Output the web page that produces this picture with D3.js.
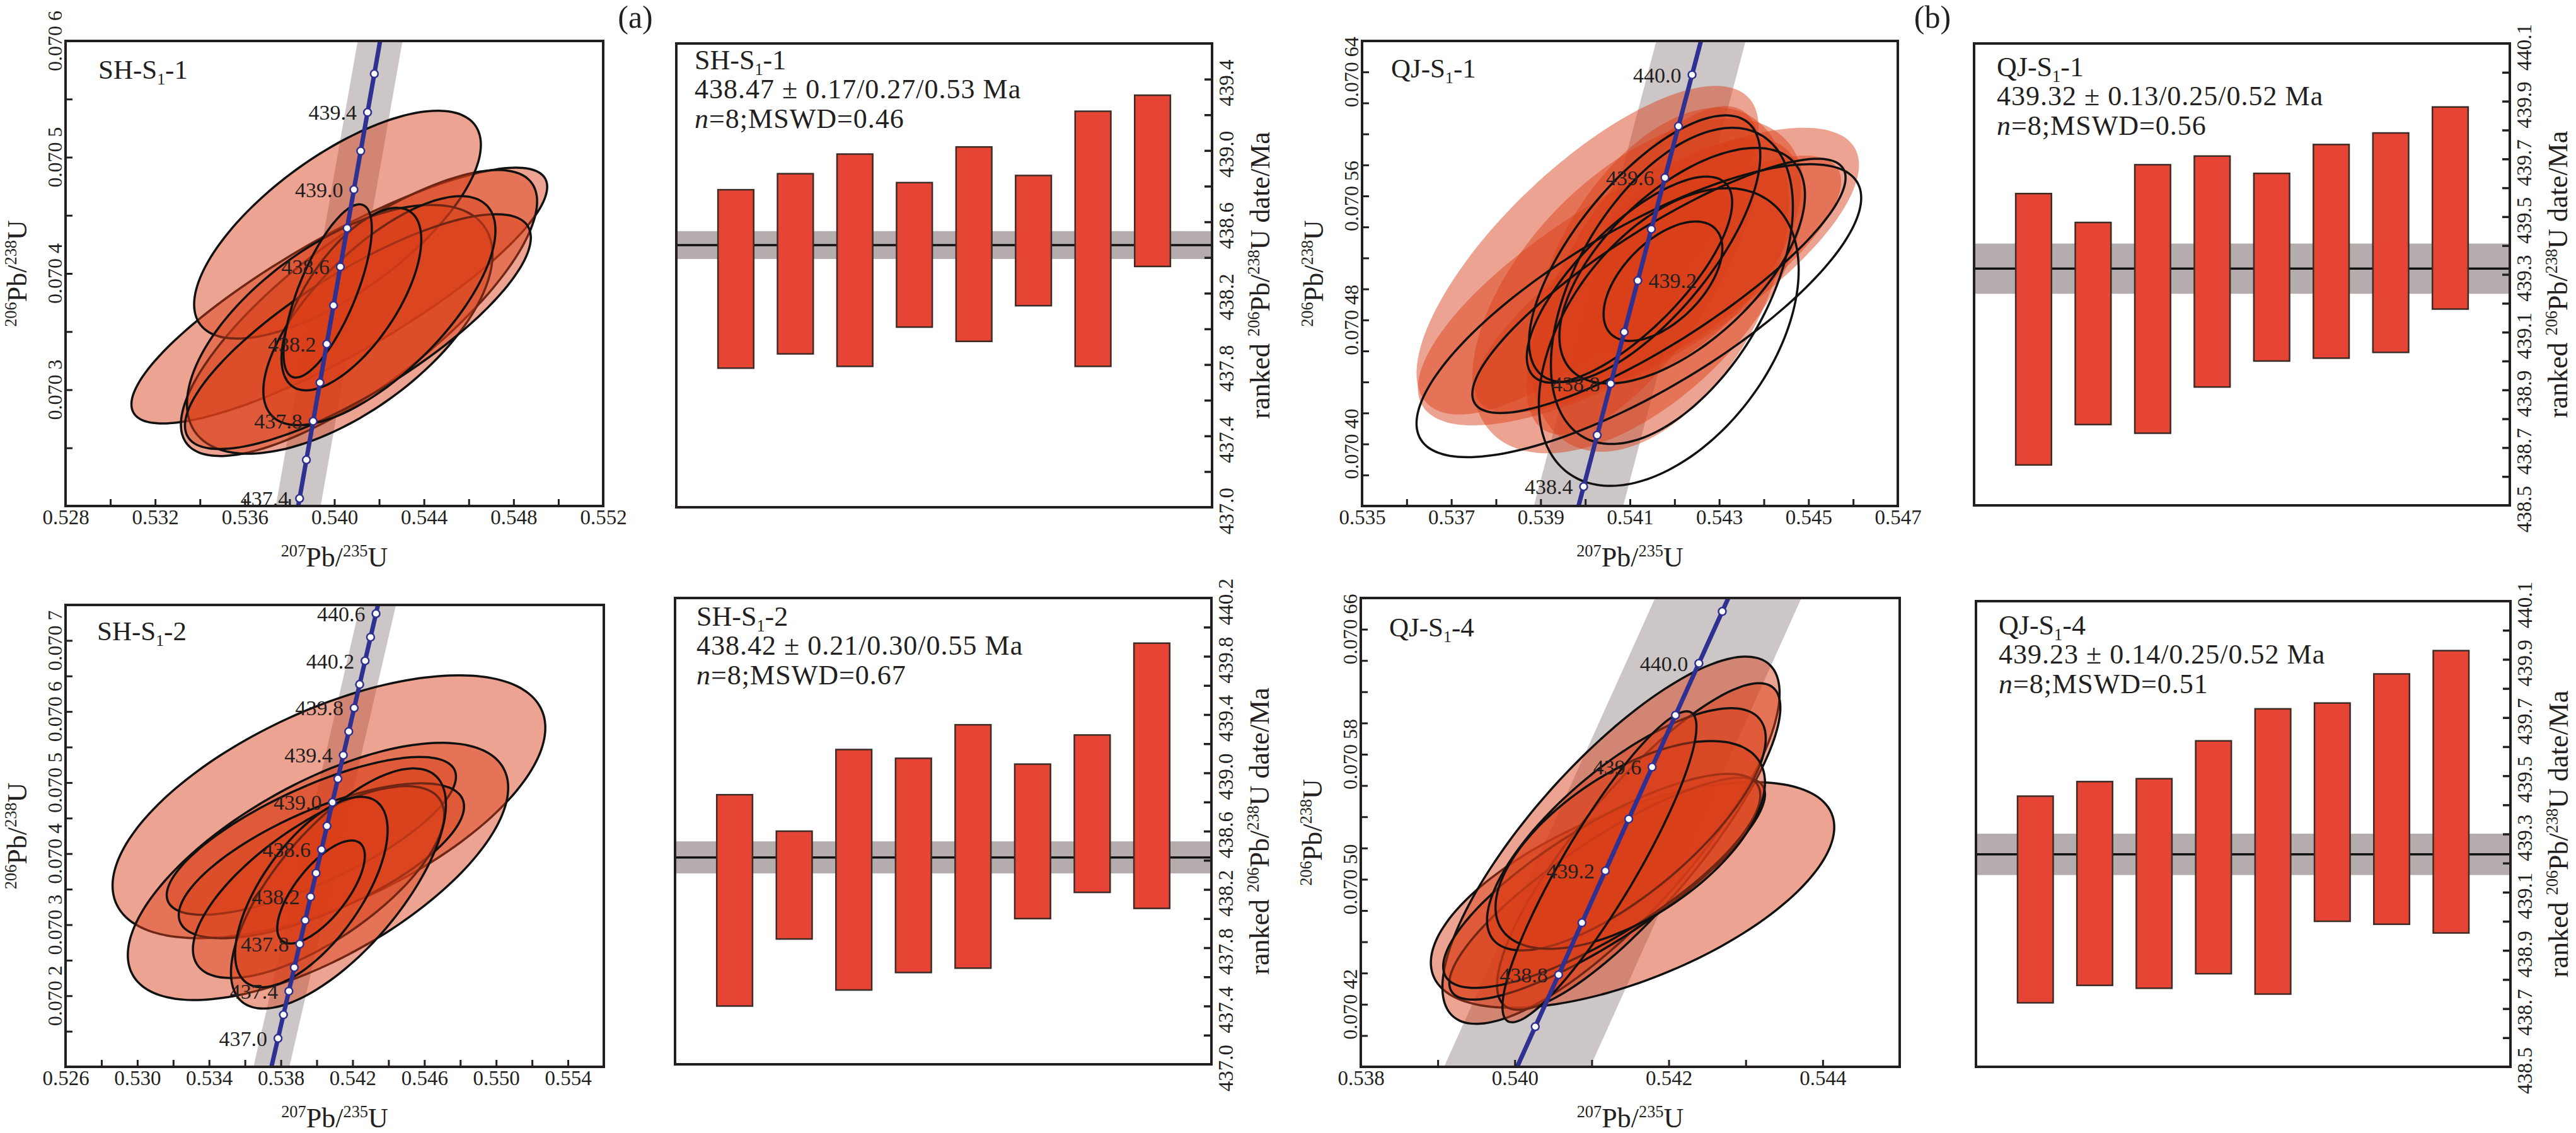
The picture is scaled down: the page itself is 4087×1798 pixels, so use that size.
<!DOCTYPE html>
<html>
<head>
<meta charset="utf-8">
<script src="https://cdn.jsdelivr.net/npm/d3@7"></script>
<style>
  body { margin: 0; background: #fff; }
  text { font-family: "Liberation Serif", "Times New Roman", serif; fill: #231f20; }
</style>
</head>
<body>
<script>
// ---------- concordia reference points: age (Ma), 207Pb/235U, 206Pb/238U ----------
var concAge = [436.6, 436.8, 437.0, 437.2, 437.4, 437.6, 437.8, 438.0, 438.2, 438.4, 438.6,
               438.8, 439.0, 439.2, 439.4, 439.6, 439.8, 440.0, 440.2, 440.4, 440.6, 440.8];
var concX = [0.5372352, 0.5375380, 0.5378409, 0.5381438, 0.5384468, 0.5387499, 0.5390530, 0.5393562,
             0.5396594, 0.5399627, 0.5402661, 0.5405695, 0.5408730, 0.5411765, 0.5414801, 0.5417838,
             0.5420875, 0.5423913, 0.5426951, 0.5429990, 0.5433030, 0.5436070];
var concY = [0.0700737, 0.0701069, 0.0701401, 0.0701733, 0.0702065, 0.0702397, 0.0702729, 0.0703061,
             0.0703393, 0.0703725, 0.0704057, 0.0704389, 0.0704722, 0.0705054, 0.0705386, 0.0705718,
             0.0706050, 0.0706382, 0.0706714, 0.0707046, 0.0707378, 0.0707711];

// ---------- SH-S1-1 ----------
// ellipses: [207/235, half range, 206/238, half range, rho]
var sh1Ellipses = [
  [0.54022, 0.00928, 0.070381, 0.000110, 0.85],
  [0.54110, 0.00795, 0.070366, 0.000123, 0.78],
  [0.54014, 0.00640, 0.070442, 0.000098, 0.70],
  [0.54024, 0.00682, 0.070352, 0.000107, 0.60],
  [0.54105, 0.00772, 0.070350, 0.000101, 0.80],
  [0.54201, 0.00518, 0.070368, 0.0000985, 0.70],
  [0.54076, 0.00312, 0.070378, 0.0000785, 0.65],
  [0.53970, 0.00197, 0.070385, 0.0000745, 0.72]
];
var sh1Markers = [437.4, 437.6, 437.8, 438.0, 438.2, 438.4, 438.6, 438.8, 439.0, 439.2, 439.4, 439.6];
var sh1AgeLabels = [437.4, 437.8, 438.2, 438.6, 439.0, 439.4];
var sh1XTicks = [0.528, 0.530, 0.532, 0.534, 0.536, 0.538, 0.540, 0.542, 0.544, 0.546, 0.548, 0.550, 0.552];
var sh1XLabels = [0.528, 0.532, 0.536, 0.540, 0.544, 0.548, 0.552];
var sh1YTicks = [0.07020, 0.07025, 0.07030, 0.07035, 0.07040, 0.07045, 0.07050, 0.07055, 0.07060];
var sh1YLabels = [0.0703, 0.0704, 0.0705, 0.0706];
var sh1Low = [437.78, 437.86, 437.79, 438.01, 437.93, 438.13, 437.79, 438.35];
var sh1High = [438.78, 438.87, 438.98, 438.82, 439.02, 438.86, 439.22, 439.31];
var sh1Mean = 438.47, sh1MeanErr = 0.078;
var sh1Text = ["438.47 \u00b1 0.17/0.27/0.53 Ma", "8", "0.46"];
var sh1DateTicks = [437.2, 437.4, 437.6, 437.8, 438.0, 438.2, 438.4, 438.6, 438.8, 439.0, 439.2, 439.4];
var sh1DateLabels = [437.0, 437.4, 437.8, 438.2, 438.6, 439.0, 439.4];

// ---------- SH-S1-2 ----------
var sh2Ellipses = [
  [0.54068, 0.01206, 0.070466, 0.000185, 0.60],
  [0.54007, 0.01060, 0.070375, 0.000181, 0.65],
  [0.53970, 0.00806, 0.070425, 0.000111, 0.75],
  [0.54026, 0.00795, 0.070390, 0.000109, 0.70],
  [0.54010, 0.00700, 0.070360, 0.000135, 0.70],
  [0.54121, 0.00599, 0.070351, 0.000169, 0.70],
  [0.53970, 0.00425, 0.070346, 0.000134, 0.65],
  [0.54024, 0.00244, 0.070346, 0.0000725, 0.70]
];
var sh2Markers = [437.0, 437.2, 437.4, 437.6, 437.8, 438.0, 438.2, 438.4, 438.6, 438.8, 439.0,
                  439.2, 439.4, 439.6, 439.8, 440.0, 440.2, 440.4, 440.6];
var sh2AgeLabels = [437.0, 437.4, 437.8, 438.2, 438.6, 439.0, 439.4, 439.8, 440.2, 440.6];
var sh2XTicks = [0.526, 0.528, 0.530, 0.532, 0.534, 0.536, 0.538, 0.540, 0.542, 0.544, 0.546, 0.548, 0.550, 0.552, 0.554];
var sh2XLabels = [0.526, 0.530, 0.534, 0.538, 0.542, 0.546, 0.550, 0.554];
var sh2YTicks = [0.07015, 0.07020, 0.07025, 0.07030, 0.07035, 0.07040, 0.07045, 0.07050, 0.07055,
                 0.07060, 0.07065, 0.07070];
var sh2YLabels = [0.0702, 0.0703, 0.0704, 0.0705, 0.0706, 0.0707];
var sh2Low = [437.40, 437.86, 437.51, 437.63, 437.66, 438.00, 438.18, 438.07];
var sh2High = [438.85, 438.60, 439.16, 439.10, 439.33, 439.06, 439.26, 439.89];
var sh2Mean = 438.42, sh2MeanErr = 0.11;
var sh2Text = ["438.42 \u00b1 0.21/0.30/0.55 Ma", "8", "0.67"];
var sh2DateTicks = [437.2, 437.4, 437.6, 437.8, 438.0, 438.2, 438.4, 438.6, 438.8, 439.0, 439.2,
                    439.4, 439.6, 439.8, 440.0];
var sh2DateLabels = [437.0, 437.4, 437.8, 438.2, 438.6, 439.0, 439.4, 439.8, 440.2];

// ---------- QJ-S1-1 ----------
var qj1Filled = [
  [0.54005, 0.00383, 0.070525, 0.000106, 0.75],
  [0.54119, 0.00494, 0.070508, 0.000096, 0.75],
  [0.54163, 0.00410, 0.070503, 0.000083, 0.80],
  [0.54119, 0.00372, 0.070502, 0.000108, 0.55],
  [0.54130, 0.00262, 0.070512, 0.000106, 0.70],
  [0.54166, 0.00289, 0.070506, 0.000111, 0.45],
  [0.54212, 0.00271, 0.070518, 0.0000795, 0.60],
  [0.54161, 0.00158, 0.070514, 0.000056, 0.60]
];
var qj1Outlined = [
  [0.54120, 0.00498, 0.070486, 0.0000945, 0.77],
  [0.54165, 0.00418, 0.070502, 0.000082, 0.85],
  [0.54187, 0.00291, 0.070469, 0.000096, 0.45],
  [0.54194, 0.00271, 0.070502, 0.000102, 0.50],
  [0.54133, 0.00259, 0.070526, 0.000086, 0.70],
  [0.54217, 0.00275, 0.070515, 0.000076, 0.60],
  [0.54099, 0.00230, 0.070506, 0.0000665, 0.75],
  [0.54174, 0.00133, 0.070505, 0.0000385, 0.55]
];
var qj1Markers = [438.4, 438.6, 438.8, 439.0, 439.2, 439.4, 439.6, 439.8, 440.0];
var qj1AgeLabels = [438.4, 438.8, 439.2, 439.6, 440.0];
var qj1XTicks = [0.535, 0.536, 0.537, 0.538, 0.539, 0.540, 0.541, 0.542, 0.543, 0.544, 0.545, 0.546, 0.547];
var qj1XLabels = [0.535, 0.537, 0.539, 0.541, 0.543, 0.545, 0.547];
var qj1YTicks = [0.07036, 0.07038, 0.07040, 0.07042, 0.07044, 0.07046, 0.07048, 0.07050, 0.07052,
                 0.07054, 0.07056, 0.07058, 0.07060, 0.07062, 0.07064, 0.07066];
var qj1YLabels = [0.07040, 0.07048, 0.07056, 0.07064];
var qj1Low = [438.64, 438.78, 438.75, 438.91, 439.00, 439.01, 439.03, 439.18];
var qj1High = [439.58, 439.48, 439.68, 439.71, 439.65, 439.75, 439.79, 439.88];
var qj1Mean = 439.32, qj1MeanErr = 0.087;
var qj1Text = ["439.32 \u00b1 0.13/0.25/0.52 Ma", "8", "0.56"];

// ---------- QJ-S1-4 ----------
var qj4Ellipses = [
  [0.54153, 0.00262, 0.070490, 0.0000722, 0.60],
  [0.54125, 0.00219, 0.070525, 0.0001175, 0.80],
  [0.54161, 0.00184, 0.070521, 0.0001045, 0.85],
  [0.54120, 0.00205, 0.070494, 0.0000710, 0.85],
  [0.54113, 0.00206, 0.070499, 0.0000685, 0.80],
  [0.54145, 0.00181, 0.070532, 0.0000775, 0.75],
  [0.54150, 0.00175, 0.070522, 0.0000665, 0.60],
  [0.54110, 0.00126, 0.070508, 0.0000995, 0.90]
];
var qj4Markers = [438.6, 438.8, 439.0, 439.2, 439.4, 439.6, 439.8, 440.0, 440.2];
var qj4AgeLabels = [438.8, 439.2, 439.6, 440.0];
var qj4XTicks = [0.538, 0.539, 0.540, 0.541, 0.542, 0.543, 0.544, 0.545];
var qj4XLabels = [0.538, 0.540, 0.542, 0.544];
var qj4YTicks = [0.07038, 0.07040, 0.07042, 0.07044, 0.07046, 0.07048, 0.07050, 0.07052, 0.07054,
                 0.07056, 0.07058, 0.07060, 0.07062, 0.07064, 0.07066, 0.07068];
var qj4YLabels = [0.07042, 0.07050, 0.07058, 0.07066];
var qj4Low = [438.72, 438.78, 438.77, 438.82, 438.75, 439.00, 438.99, 438.96];
var qj4High = [439.43, 439.48, 439.49, 439.62, 439.73, 439.75, 439.85, 439.93];
var qj4Mean = 439.23, qj4MeanErr = 0.071;
var qj4Text = ["439.23 \u00b1 0.14/0.25/0.52 Ma", "8", "0.51"];

var qjDateTicks = [438.6, 438.7, 438.8, 438.9, 439.0, 439.1, 439.2, 439.3, 439.4, 439.5, 439.6,
                   439.7, 439.8, 439.9, 440.0];
var qjDateLabels = [438.5, 438.7, 438.9, 439.1, 439.3, 439.5, 439.7, 439.9, 440.1];

// ---------- drawing ----------
var ink = "#231f20";
var ellipseFill = "#da3e19", ellipseAlpha = 0.48;
var svg = d3.select("body").append("svg")
    .attr("width", 4087)
    .attr("height", 1798);

function has(list, v) {
  return list.some(function(d) { return Math.abs(d - v) < 1e-9; });
}

function sampleName(sel, parts, size) {
  sel.append("tspan").text(parts[0]);
  sel.append("tspan").attr("font-size", size * 0.6).attr("dy", size * 0.2).text(parts[1]);
  sel.append("tspan").attr("dy", -size * 0.2).text(parts[2]);
}

function isoTitle(sel, pre, a, b, post, size) {
  if (pre) sel.append("tspan").text(pre);
  sel.append("tspan").attr("font-size", size * 0.6).attr("dy", -size * 0.36).text(a);
  sel.append("tspan").attr("dy", size * 0.36).text("Pb/");
  sel.append("tspan").attr("font-size", size * 0.6).attr("dy", -size * 0.36).text(b);
  sel.append("tspan").attr("dy", size * 0.36).text("U" + post);
}

function ellipsePath(e, x, y) {
  var k = Math.sqrt(1 - e[4] * e[4]);
  var pts = d3.range(96).map(function(i) {
    var t = i / 96 * 2 * Math.PI;
    return [x(e[0] + e[1] * Math.cos(t)), y(e[2] + e[3] * (e[4] * Math.cos(t) + k * Math.sin(t)))];
  });
  return d3.line().curve(d3.curveCardinalClosed)(pts);
}

function concordiaPanel(p) {
  var w = p.box[2], h = p.box[3];
  var g = svg.append("g").attr("transform", "translate(" + p.box[0] + "," + p.box[1] + ")");
  var x = d3.scaleLinear().domain(p.xDomain).range([0, w]);
  var y = d3.scaleLinear().domain(p.yDomain).range([h, 0]);

  g.append("clipPath").attr("id", "clip" + p.id)
    .append("rect").attr("width", w).attr("height", h);
  var plot = g.append("g").attr("clip-path", "url(#clip" + p.id + ")");

  // decay constant band
  var idx = d3.range(concAge.length);
  var band = idx.map(function(i) { return [x(concX[i] - p.band), y(concY[i])]; })
    .concat(idx.slice().reverse().map(function(i) { return [x(concX[i] + p.band), y(concY[i])]; }));
  plot.append("path").attr("d", d3.line()(band) + "Z").attr("fill", "#cdc6c6");

  // ellipses
  (p.filled || []).forEach(function(e) {
    plot.append("path").attr("d", ellipsePath(e, x, y))
      .attr("fill", ellipseFill).attr("fill-opacity", ellipseAlpha).attr("stroke", "none");
  });
  (p.ellipses || []).forEach(function(e) {
    plot.append("path").attr("d", ellipsePath(e, x, y))
      .attr("fill", ellipseFill).attr("fill-opacity", ellipseAlpha)
      .attr("stroke", "#111").attr("stroke-width", 3.5);
  });
  (p.outlined || []).forEach(function(e) {
    plot.append("path").attr("d", ellipsePath(e, x, y))
      .attr("fill", "none").attr("stroke", "#111").attr("stroke-width", 3.5);
  });

  // concordia curve
  plot.append("path")
    .attr("d", d3.line()(idx.map(function(i) { return [x(concX[i]), y(concY[i])]; })))
    .attr("fill", "none").attr("stroke", "#2e3092").attr("stroke-width", 7);

  var mk = idx.filter(function(i) { return has(p.markers, concAge[i]); });
  g.selectAll(".mk" + p.id).data(mk).enter().append("circle")
    .attr("cx", function(i) { return x(concX[i]); })
    .attr("cy", function(i) { return y(concY[i]); })
    .attr("r", 6)
    .attr("fill", "#fff").attr("stroke", "#2e3092").attr("stroke-width", 2.5);

  var lb = idx.filter(function(i) { return has(p.ageLabels, concAge[i]); });
  g.selectAll(".lb" + p.id).data(lb).enter().append("text")
    .attr("x", function(i) { return x(concX[i]) + (has(p.rightLabels || [], concAge[i]) ? 17 : -17); })
    .attr("y", function(i) { return y(concY[i]); })
    .attr("dy", "0.35em")
    .attr("text-anchor", function(i) { return has(p.rightLabels || [], concAge[i]) ? "start" : "end"; })
    .attr("font-size", 34)
    .text(function(i) { return concAge[i].toFixed(1); });

  // axes, ticks inward
  var ax = g.append("g").attr("transform", "translate(0," + h + ")")
    .call(d3.axisBottom(x).tickValues(p.xTicks).tickSize(-11).tickPadding(6)
      .tickFormat(function(d) { return has(p.xLabels, d) ? d.toFixed(3) : ""; }));
  ax.select(".domain").remove();
  ax.selectAll("line").attr("stroke", ink).attr("stroke-width", 3);
  ax.selectAll("text").attr("font-size", 33).attr("fill", ink)
    .style("font-family", '"Liberation Serif", serif');

  var ay = g.append("g")
    .call(d3.axisLeft(y).tickValues(p.yTicks).tickSize(-11).tickFormat(""));
  ay.select(".domain").remove();
  ay.selectAll("line").attr("stroke", ink).attr("stroke-width", 3);

  g.selectAll(".yl" + p.id).data(p.yLabels).enter().append("text")
    .attr("transform", function(d) { return "translate(-6," + y(d) + ") rotate(-90)"; })
    .attr("text-anchor", "middle")
    .attr("font-size", 32)
    .text(function(d) { var s = d.toFixed(p.yDigits); return s.slice(0, 5) + " " + s.slice(5); });

  g.append("rect").attr("width", w).attr("height", h)
    .attr("fill", "none").attr("stroke", ink).attr("stroke-width", 4);

  sampleName(g.append("text").attr("x", p.nameAt[0]).attr("y", p.nameAt[1]).attr("font-size", 43),
    p.name, 43);

  isoTitle(g.append("text").attr("text-anchor", "middle")
      .attr("transform", "translate(-62," + h / 2 + ") rotate(-90)").attr("font-size", 44),
    "", "206", "238", "", 44);
  isoTitle(g.append("text").attr("text-anchor", "middle")
      .attr("x", w / 2).attr("y", h + 96).attr("font-size", 44),
    "", "207", "235", "", 44);
}

function rankedPanel(p) {
  var w = p.box[2], h = p.box[3];
  var g = svg.append("g").attr("transform", "translate(" + p.box[0] + "," + p.box[1] + ")");
  var x = d3.scaleLinear().domain([0, 9]).range([0, w]);
  var y = d3.scaleLinear().domain(p.yDomain).range([h, 0]);

  g.append("rect").attr("x", 0).attr("width", w)
    .attr("y", y(p.mean + p.meanErr)).attr("height", y(p.mean - p.meanErr) - y(p.mean + p.meanErr))
    .attr("fill", "#b5adad");
  g.append("line").attr("x1", 0).attr("x2", w).attr("y1", y(p.mean)).attr("y2", y(p.mean))
    .attr("stroke", "#111").attr("stroke-width", 3.5);

  var bw = x(0.6) - x(0);
  g.selectAll(".bar" + p.id).data(p.low).enter().append("rect")
    .attr("x", function(d, i) { return x(i + 1) - bw / 2; })
    .attr("width", bw)
    .attr("y", function(d, i) { return y(p.high[i]); })
    .attr("height", function(d, i) { return y(d) - y(p.high[i]); })
    .attr("fill", "#e64535").attr("stroke", "#3d2b26").attr("stroke-width", 2.5);

  var ay = g.append("g").attr("transform", "translate(" + w + ",0)")
    .call(d3.axisRight(y).tickValues(p.ticks).tickSize(-12).tickFormat(""));
  ay.select(".domain").remove();
  ay.selectAll("line").attr("stroke", ink).attr("stroke-width", 3.5);

  g.selectAll(".rl" + p.id).data(p.labels).enter().append("text")
    .attr("transform", function(d) { return "translate(" + (w + 34) + "," + (y(d) + 6) + ") rotate(-90)"; })
    .attr("text-anchor", "middle")
    .attr("font-size", 33)
    .attr("fill", "#333")
    .text(function(d) { return d.toFixed(1); });

  g.append("rect").attr("width", w).attr("height", h)
    .attr("fill", "none").attr("stroke", ink).attr("stroke-width", 4);

  var tx = p.textAt[0], ty = p.textAt[1];
  sampleName(g.append("text").attr("x", tx).attr("y", ty).attr("font-size", 44), p.name, 44);
  g.append("text").attr("x", tx).attr("y", ty + 46).attr("font-size", 44)
    .attr("letter-spacing", 1).text(p.text[0]);
  var t3 = g.append("text").attr("x", tx).attr("y", ty + 93).attr("font-size", 44).attr("letter-spacing", 1);
  t3.append("tspan").attr("font-style", "italic").text("n");
  t3.append("tspan").text("=" + p.text[1] + ";MSWD=" + p.text[2]);

  isoTitle(g.append("text").attr("text-anchor", "middle")
      .attr("transform", "translate(" + (w + 91) + "," + h / 2 + ") rotate(-90)").attr("font-size", 44),
    "ranked ", "206", "238", " date/Ma", 44);
}

concordiaPanel({id: 1, box: [104, 65, 853, 738], name: ["SH-S", "1", "-1"], nameAt: [52, 60],
  xDomain: [0.528, 0.552], yDomain: [0.0702, 0.0706], xTicks: sh1XTicks, xLabels: sh1XLabels,
  yTicks: sh1YTicks, yLabels: sh1YLabels, yDigits: 4, band: 0.001,
  ellipses: sh1Ellipses, markers: sh1Markers, ageLabels: sh1AgeLabels});

concordiaPanel({id: 3, box: [104, 960, 854, 733], name: ["SH-S", "1", "-2"], nameAt: [50, 56],
  xDomain: [0.526, 0.556], yDomain: [0.0701, 0.07075], xTicks: sh2XTicks, xLabels: sh2XLabels,
  yTicks: sh2YTicks, yLabels: sh2YLabels, yDigits: 4, band: 0.001,
  ellipses: sh2Ellipses, markers: sh2Markers, ageLabels: sh2AgeLabels});

concordiaPanel({id: 5, box: [2161, 65, 850, 738], name: ["QJ-S", "1", "-1"], nameAt: [46, 58],
  xDomain: [0.535, 0.547], yDomain: [0.07036, 0.07066], xTicks: qj1XTicks, xLabels: qj1XLabels,
  yTicks: qj1YTicks, yLabels: qj1YLabels, yDigits: 5, band: 0.001,
  filled: qj1Filled, outlined: qj1Outlined, markers: qj1Markers, ageLabels: qj1AgeLabels,
  rightLabels: [439.2]});

concordiaPanel({id: 7, box: [2159, 949, 855, 744], name: ["QJ-S", "1", "-4"], nameAt: [45, 61],
  xDomain: [0.538, 0.545], yDomain: [0.07038, 0.07068], xTicks: qj4XTicks, xLabels: qj4XLabels,
  yTicks: qj4YTicks, yLabels: qj4YLabels, yDigits: 5, band: 0.00095,
  ellipses: qj4Ellipses, markers: qj4Markers, ageLabels: qj4AgeLabels});

rankedPanel({id: 2, box: [1073, 69, 850, 736], name: ["SH-S", "1", "-1"], textAt: [29, 41],
  yDomain: [437.0, 439.6], ticks: sh1DateTicks, labels: sh1DateLabels,
  low: sh1Low, high: sh1High, mean: sh1Mean, meanErr: sh1MeanErr, text: sh1Text});

rankedPanel({id: 4, box: [1071, 949, 851, 740], name: ["SH-S", "1", "-2"], textAt: [34, 44],
  yDomain: [437.0, 440.2], ticks: sh2DateTicks, labels: sh2DateLabels,
  low: sh2Low, high: sh2High, mean: sh2Mean, meanErr: sh2MeanErr, text: sh2Text});

rankedPanel({id: 6, box: [3132, 69, 850, 733], name: ["QJ-S", "1", "-1"], textAt: [36, 52],
  yDomain: [438.5, 440.1], ticks: qjDateTicks, labels: qjDateLabels,
  low: qj1Low, high: qj1High, mean: qj1Mean, meanErr: qj1MeanErr, text: qj1Text});

rankedPanel({id: 8, box: [3135, 954, 848, 739], name: ["QJ-S", "1", "-4"], textAt: [36, 53],
  yDomain: [438.5, 440.1], ticks: qjDateTicks, labels: qjDateLabels,
  low: qj4Low, high: qj4High, mean: qj4Mean, meanErr: qj4MeanErr, text: qj4Text});

svg.append("text").attr("x", 1008).attr("y", 44).attr("text-anchor", "middle")
  .attr("font-size", 50).text("(a)");
svg.append("text").attr("x", 3066).attr("y", 44).attr("text-anchor", "middle")
  .attr("font-size", 50).text("(b)");
</script>
</body>
</html>
